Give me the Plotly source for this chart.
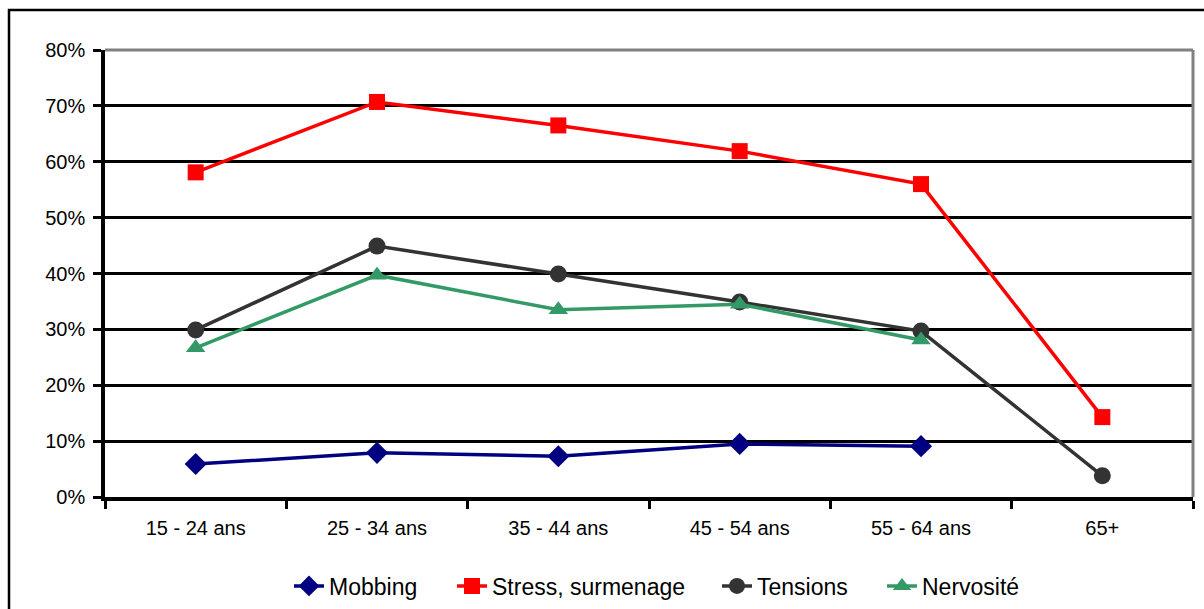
import plotly.graph_objects as go

categories = ["15 - 24 ans", "25 - 34 ans", "35 - 44 ans", "45 - 54 ans", "55 - 64 ans", "65+"]
mobbing = [0.059, 0.079, 0.073, 0.095, 0.091, None]
stress = [0.581, 0.707, 0.665, 0.619, 0.560, 0.143]
tensions = [0.299, 0.449, 0.399, 0.349, 0.297, 0.038]
nervosite = [0.267, 0.397, 0.335, 0.345, 0.281, None]
y_ticks = [0, 0.1, 0.2, 0.3, 0.4, 0.5, 0.6, 0.7, 0.8]

W, H = 1204, 609
L, R, T, B = 105, 11, 50, 112
pw, ph = W - L - R, H - T - B

def px_x(x):
    return (x - L) / pw

def px_y(y):
    return (H - B - y) / ph

series = [
    ("Mobbing", mobbing, "#000080", "diamond", 17, "legend", 289),
    ("Stress, surmenage", stress, "#FF0000", "square", 16, "legend2", 452),
    ("Tensions", tensions, "#333333", "circle", 17, "legend3", 717),
    ("Nervosité", nervosite, "#339966", "triangle-up", 17, "legend4", 882),
]

fig = go.Figure()
legends = {}
for name, vals, color, sym, size, leg, lx in series:
    fig.add_trace(go.Scatter(x=categories, y=vals, name=name, mode="lines+markers",
                             line=dict(color=color, width=3.5),
                             marker=dict(symbol=sym, size=size, color=color),
                             legend=leg))
    legends[leg] = dict(orientation="h", xref="container", yref="container",
                        x=lx / W, xanchor="left", y=(H - 586) / H, yanchor="middle",
                        font=dict(size=23), bgcolor="rgba(0,0,0,0)")

fig.update_layout(
    width=W, height=H,
    margin=dict(l=L, r=R, t=T, b=B),
    paper_bgcolor="white", plot_bgcolor="white",
    font=dict(family="Liberation Sans, Arial, sans-serif", size=20, color="black"),
    showlegend=True,
    xaxis=dict(type="category", tickson="boundaries", ticks="outside", ticklen=8,
               tickwidth=3, tickcolor="black", showline=True, linecolor="black", linewidth=3.5,
               showgrid=False, range=[-0.5, 5.5], ticklabelstandoff=10),
    yaxis=dict(range=[0, 0.8], tickvals=y_ticks, tickformat=".0%", ticks="outside",
               ticklen=8, tickwidth=3, tickcolor="black", showline=True, linecolor="black",
               linewidth=3.5, showgrid=True, gridcolor="black", gridwidth=2.5, zeroline=False,
               ticklabelstandoff=4),
    shapes=[
        dict(type="line", xref="paper", yref="paper", x0=0, x1=1, y0=1, y1=1,
             line=dict(color="#808080", width=3), layer="above"),
        dict(type="line", xref="paper", yref="paper", x0=1, x1=1, y0=0, y1=1,
             line=dict(color="#808080", width=3), layer="above"),
        dict(type="rect", xref="paper", yref="paper", x0=px_x(9), x1=px_x(1220),
             y0=px_y(640), y1=px_y(10), line=dict(color="black", width=2.5),
             fillcolor="rgba(0,0,0,0)", layer="below"),
    ],
    **legends,
)

fig.write_html("out.html", config={"displayModeBar": False},
               post_script="document.body.style.margin='0px';")
